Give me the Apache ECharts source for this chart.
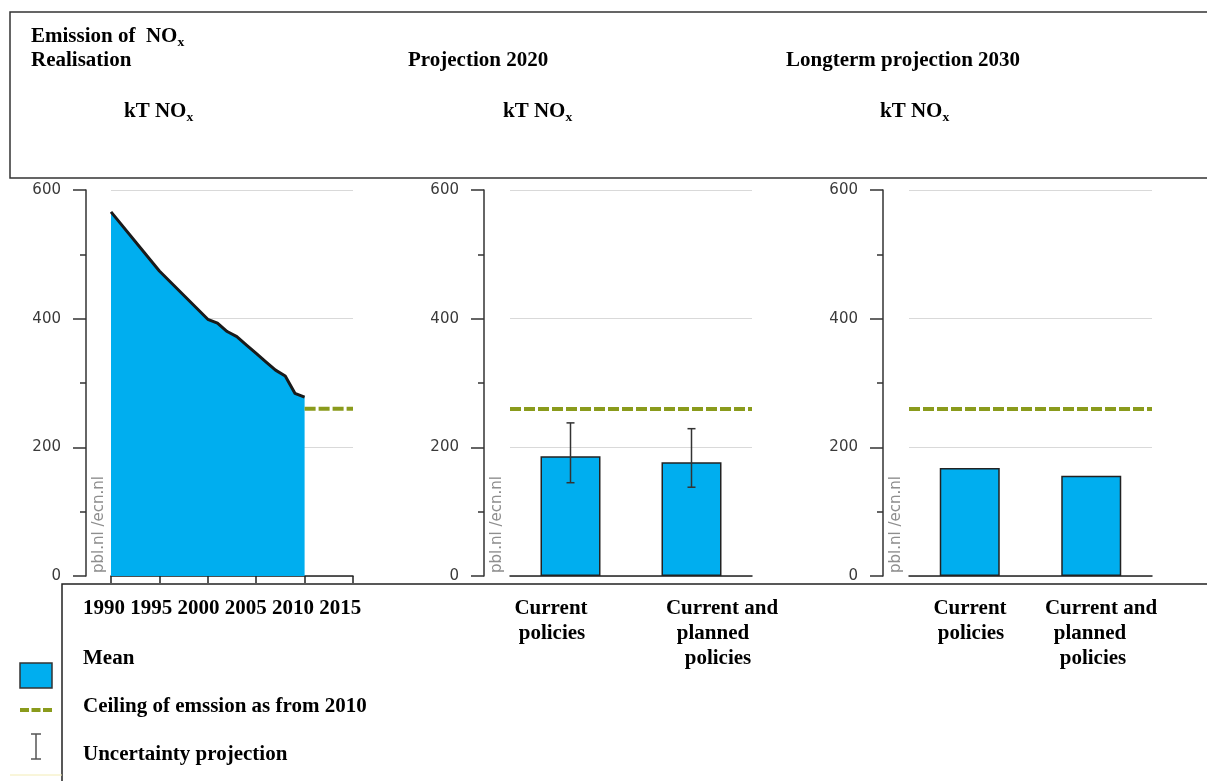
<!DOCTYPE html>
<html>
<head>
<meta charset="utf-8">
<script src="https://cdn.jsdelivr.net/npm/echarts@6/dist/echarts.min.js"></script>
<style>
  html, body { margin: 0; padding: 0; background: #fff; }
  #chart { width: 1207px; height: 781px; }
</style>
</head>
<body>
<div id="chart"></div>
<script>
// NOx emissions, kT
const years = [1990, 1995, 2000, 2001, 2002, 2003, 2004, 2005, 2006, 2007, 2008, 2009, 2010];
const emissions = [566, 474, 399, 393, 380, 372, 359, 346, 333, 320, 311, 284, 278];
const yearTicks = [1990, 1995, 2000, 2005, 2010, 2015];
const ceiling = 260;
const ceilingYears = [2010, 2015];

const categories = ['Current policies', 'Current and planned policies'];
const categoryLines = [['Current', 'policies'], ['Current and', 'planned', 'policies']];
const mean2020 = [186, 177];
const low2020 = [145, 138];
const high2020 = [238, 229];
const mean2030 = [168, 156];

const panelTitles = ['Realisation', 'Projection 2020', 'Longterm projection 2030'];
const legendLabels = ['Mean', 'Ceiling of emssion as from 2010', 'Uncertainty projection'];
const watermark = 'pbl.nl /ecn.nl';

const BLUE = '#00aeef';
const GREEN = '#8a9b1c';
const serif = '"Liberation Serif","Times New Roman",serif';

const chart = echarts.init(document.getElementById('chart'));

function yAxisFor(i, offset) {
  return {
    type: 'value', gridIndex: i, min: 0, max: 600, interval: 200, offset: offset,
    axisLine: { show: true, lineStyle: { color: '#333', width: 1.5 } },
    axisTick: { show: true, length: 13, lineStyle: { color: '#333', width: 1.5 } },
    minorTick: { show: true, splitNumber: 2, length: 6, lineStyle: { color: '#333', width: 1.5 } },
    axisLabel: { color: '#3a3a3a', fontFamily: 'DejaVu Sans', fontSize: 15, margin: 25 },
    splitLine: { show: true, lineStyle: { color: '#d9d9d9', width: 1 } }
  };
}

function categoryAxisFor(i) {
  return {
    type: 'category', gridIndex: i, data: categories, boundaryGap: true,
    axisLine: { show: true, lineStyle: { color: '#222', width: 1.5 } },
    axisTick: { show: false }, axisLabel: { show: false }, splitLine: { show: false }
  };
}

const ceilingStyle = { color: GREEN, width: 4, type: [11, 3] };

function text(str, x, y, align, extra) {
  return {
    type: 'text', x: x, y: y, scaleX: 1.05, z: 100,
    style: Object.assign({
      text: str, fill: '#000', fontSize: 20, fontWeight: 'bold', fontFamily: serif,
      align: align || 'left', verticalAlign: 'middle'
    }, extra || {})
  };
}

// text with a subscript x (NOx)
function noxText(prefix, x, y) {
  return text('{n|' + prefix + 'NO}{s|x}', x, y, 'left', {
    rich: {
      n: { fill: '#000', fontSize: 20, fontWeight: 'bold', fontFamily: serif, lineHeight: 24 },
      s: { fill: '#000', fontSize: 13, fontWeight: 'bold', fontFamily: serif, lineHeight: 16, verticalAlign: 'bottom' }
    }
  });
}

function mark(x) {
  return {
    type: 'text', x: x, y: 573, rotation: Math.PI / 2, z: 10,
    style: { text: watermark, fill: '#8e8e8e', fontSize: 15, fontFamily: 'DejaVu Sans', align: 'left', verticalAlign: 'middle' }
  };
}

const graphics = [
  // header box
  { type: 'rect', z: 90, shape: { x: 10, y: 12, width: 1215, height: 166 },
    style: { fill: '#fff', stroke: '#333', lineWidth: 1.5 } },
  noxText('Emission of  ', 31, 37),
  text(panelTitles[0], 31, 61),
  text(panelTitles[1], 408, 61),
  text(panelTitles[2], 786, 61),
  noxText('k' + 'T ', 124, 112),
  noxText('k' + 'T ', 503, 112),
  noxText('k' + 'T ', 880, 112),
  // footer box
  { type: 'rect', z: 90, shape: { x: 62, y: 584, width: 1200, height: 220 },
    style: { fill: '#fff', stroke: '#222', lineWidth: 1.5 } },
  text(yearTicks.join(' '), 83, 609),
  text(legendLabels[0], 83, 659),
  text(legendLabels[1], 83, 707),
  text(legendLabels[2], 83, 755),
  // category captions
  text(categoryLines[0][0], 551, 609, 'center'),
  text(categoryLines[0][1], 552, 634, 'center'),
  text(categoryLines[1][0], 722, 609, 'center'),
  text(categoryLines[1][1], 713, 634, 'center'),
  text(categoryLines[1][2], 718, 659, 'center'),
  text(categoryLines[0][0], 970, 609, 'center'),
  text(categoryLines[0][1], 971, 634, 'center'),
  text(categoryLines[1][0], 1101, 609, 'center'),
  text(categoryLines[1][1], 1090, 634, 'center'),
  text(categoryLines[1][2], 1093, 659, 'center'),
  // legend symbols
  { type: 'rect', z: 100, shape: { x: 20, y: 663, width: 32, height: 25 },
    style: { fill: BLUE, stroke: '#333', lineWidth: 1.5 } },
  { type: 'line', z: 100, shape: { x1: 20, y1: 710, x2: 52, y2: 710 },
    style: { stroke: GREEN, lineWidth: 4, lineDash: [9, 2.5] } },
  { type: 'line', z: 100, shape: { x1: 36, y1: 734, x2: 36, y2: 759 }, style: { stroke: '#555', lineWidth: 1.5 } },
  { type: 'line', z: 100, shape: { x1: 31, y1: 734, x2: 41, y2: 734 }, style: { stroke: '#555', lineWidth: 1.5 } },
  { type: 'line', z: 100, shape: { x1: 31, y1: 759, x2: 41, y2: 759 }, style: { stroke: '#555', lineWidth: 1.5 } },
  { type: 'line', z: 100, shape: { x1: 10, y1: 775, x2: 62, y2: 775 }, style: { stroke: '#f3ecb5', lineWidth: 1 } },
  // source marks
  mark(99), mark(497), mark(896)
];

function errorBars(params, api) {
  const i = api.value(0);
  const lo = api.coord([i, api.value(1)]);
  const hi = api.coord([i, api.value(2)]);
  const c = 4;
  const st = { stroke: '#333', lineWidth: 1.5 };
  return {
    type: 'group',
    children: [
      { type: 'line', shape: { x1: hi[0], y1: hi[1], x2: lo[0], y2: lo[1] }, style: st },
      { type: 'line', shape: { x1: hi[0] - c, y1: hi[1], x2: hi[0] + c, y2: hi[1] }, style: st },
      { type: 'line', shape: { x1: lo[0] - c, y1: lo[1], x2: lo[0] + c, y2: lo[1] }, style: st }
    ]
  };
}

const option = {
  animation: false,
  backgroundColor: '#fff',
  grid: [
    { left: 111, top: 190, width: 242, height: 386 },
    { left: 510, top: 190, width: 242, height: 386 },
    { left: 909, top: 190, width: 243, height: 386 }
  ],
  xAxis: [
    {
      type: 'value', gridIndex: 0, min: yearTicks[0], max: yearTicks[yearTicks.length - 1], interval: 5,
      axisLine: { show: true, lineStyle: { color: '#222', width: 1.5 } },
      axisTick: { show: true, length: 7, lineStyle: { color: '#222', width: 1.5 } },
      axisLabel: { show: false }, splitLine: { show: false }
    },
    categoryAxisFor(1),
    categoryAxisFor(2)
  ],
  yAxis: [yAxisFor(0, 25), yAxisFor(1, 26), yAxisFor(2, 26)],
  graphic: graphics,
  series: [
    {
      type: 'line', xAxisIndex: 0, yAxisIndex: 0, z: 3,
      data: years.map((y, i) => [y, emissions[i]]),
      showSymbol: false, symbol: 'none',
      lineStyle: { color: '#1a1a1a', width: 3, join: 'round' },
      areaStyle: { color: BLUE, opacity: 1 }
    },
    {
      type: 'line', xAxisIndex: 0, yAxisIndex: 0, z: 4,
      data: ceilingYears.map(y => [y, ceiling]),
      symbol: 'none', lineStyle: ceilingStyle
    },
    {
      type: 'bar', xAxisIndex: 1, yAxisIndex: 1, data: mean2020, barWidth: 60,
      itemStyle: { color: BLUE, borderColor: '#222', borderWidth: 1.5 },
      markLine: { silent: true, symbol: 'none', label: { show: false }, lineStyle: ceilingStyle, data: [{ yAxis: ceiling }] }
    },
    {
      type: 'custom', xAxisIndex: 1, yAxisIndex: 1, z: 5,
      data: categories.map((c, i) => [i, low2020[i], high2020[i]]),
      encode: { x: 0, y: [1, 2] },
      renderItem: errorBars
    },
    {
      type: 'bar', xAxisIndex: 2, yAxisIndex: 2, data: mean2030, barWidth: 60,
      itemStyle: { color: BLUE, borderColor: '#222', borderWidth: 1.5 },
      markLine: { silent: true, symbol: 'none', label: { show: false }, lineStyle: ceilingStyle, data: [{ yAxis: ceiling }] }
    }
  ]
};

chart.setOption(option);
</script>
</body>
</html>
